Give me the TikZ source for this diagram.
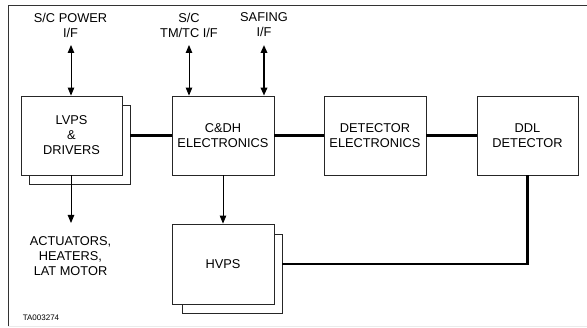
\documentclass[tikz,border=0pt]{standalone}
\usepackage{fontspec}
\setmainfont{Liberation Sans}
\usetikzlibrary{arrows.meta}
\begin{document}
\begin{tikzpicture}[x=1pt,y=1pt,
  blk/.style={draw=black!85,line width=0.8pt,fill=white,minimum width=101pt,minimum height=79pt,inner sep=0pt,align=center,font=\fontsize{12.8}{15}\selectfont},
  lbl/.style={align=center,inner sep=0pt,font=\fontsize{12.8}{15}\selectfont},
  bus/.style={line width=2.6pt,black},
  arr/.style={line width=0.9pt,-{Triangle[length=8pt,width=6.5pt]}},
  darr/.style={line width=0.9pt,{Triangle[length=8pt,width=6.5pt]}-{Triangle[length=8pt,width=6.5pt]}}]
\useasboundingbox (0,0) rectangle (587,328);
% frame
\draw[black!80,line width=1pt] (587,322) -- (8,322) -- (8,1);
\draw[black!8,line width=1pt] (8,1) -- (587,1);
% boxes
\node[blk] (lvpsb) at (79.5,183.5) {};
\node[blk] (lvps) at (71.5,192.5) {LVPS\\\&\\DRIVERS};
\node[blk,minimum width=102pt] (cdh) at (223,192.5) {C\&DH\\ELECTRONICS};
\node[blk,minimum width=102pt] (dete) at (375,192.5) {DETECTOR\\ELECTRONICS};
\node[blk] (ddl) at (527.5,192.5) {DDL\\DETECTOR};
\node[blk,minimum width=100pt] (hvpsb) at (232,54.5) {};
\node[blk,minimum width=102pt,minimum height=80pt] (hvps) at (223,64) {HVPS};
% labels
\node[lbl] (pwr) at (70.5,303) {S/C POWER\\I/F};
\node[lbl] (tmtc) at (189,303) {S/C\\TM/TC I/F};
\node[lbl] (saf) at (264,303) {SAFING\\I/F};
\node[lbl] (act) at (70.5,72) {ACTUATORS,\\HEATERS,\\LAT MOTOR};
\node[inner sep=0pt,font=\fontsize{8}{9}\selectfont] (ta) at (41,10) {TA003274};
\coordinate (pwrtop) at (71,283);
\coordinate (tmtctop) at (189,283);
\coordinate (saftop) at (264,283);
\coordinate (actend) at (71,105);
% arrows
\draw[darr] (pwrtop) -- (pwrtop |- lvps.north);
\draw[darr] (tmtctop) -- (tmtctop |- cdh.north);
\draw[darr,line width=1.8pt] (saftop) -- (saftop |- cdh.north);
\draw[arr] (lvps.south -| actend) -- (actend);
\draw[arr] (cdh.south) -- (hvps.north);
% buses
\draw[bus] (cdh.west -| lvpsb.east) -- (cdh.west);
\draw[bus] (cdh.east) -- (dete.west);
\draw[bus] (dete.east) -- (ddl.west);
\draw[bus] (ddl.south) |- (hvps.east -| hvpsb.east);
\end{tikzpicture}
\end{document}
